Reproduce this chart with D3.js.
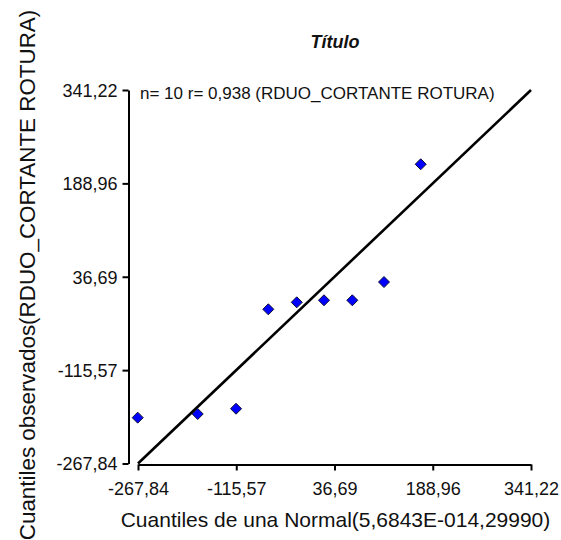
<!DOCTYPE html>
<html><head><meta charset="utf-8">
<script src="https://cdn.jsdelivr.net/npm/d3@7"></script>
<style>body{margin:0;background:#fff}svg{display:block}</style>
</head><body>
<script>
const tickValues = [-267.84, -115.57, 36.69, 188.96, 341.22];
const tickLabels = ["-267,84", "-115,57", "36,69", "188,96", "341,22"];
const normalQuantiles = [-268.3, -175.3, -115.9, -65.9, -21.8, 20.4, 64.3, 113.4, 170.3];
const observedQuantiles = [-193.1, -187.1, -178.5, -16.4, -5.0, -1.7, -1.7, 28.1, 220.1];
const refLine = [-267.84, 341.22];
const title = "Título";
const annotation = "n= 10 r= 0,938 (RDUO_CORTANTE ROTURA)";
const xTitle = "Cuantiles de una Normal(5,6843E-014,29990)";
const yTitle = "Cuantiles observados(RDUO_CORTANTE ROTURA)";

const W = 561, H = 540;
const svg = d3.select("body").append("svg").attr("width", W).attr("height", H)
  .style("font-family", "'Liberation Sans', Arial, sans-serif");

const x = d3.scaleLinear().domain([tickValues[0], tickValues[4]]).range([138, 531]);
const y = d3.scaleLinear().domain([tickValues[0], tickValues[4]]).range([463.5, 90]);

const fmt = v => tickLabels[tickValues.indexOf(v)];

const xAxis = svg.append("g").attr("transform", "translate(0,464.5)")
  .call(d3.axisBottom(x).tickValues(tickValues).tickFormat(fmt).tickSize(6).tickSizeOuter(0));
const yAxis = svg.append("g").attr("transform", "translate(128.5,0)")
  .call(d3.axisLeft(y).tickValues(tickValues).tickFormat(fmt).tickSize(6).tickSizeOuter(0));
[xAxis, yAxis].forEach(g => {
  g.select(".domain").attr("stroke", "#000").attr("stroke-width", 2);
  g.selectAll(".tick line").attr("stroke", "#000").attr("stroke-width", 2);
  g.selectAll(".tick text").attr("fill", "#111").style("font-size", "18px").style("font-family", "'Liberation Sans', Arial, sans-serif");
});
xAxis.selectAll(".tick text").attr("dy", null).attr("y", 30);
yAxis.selectAll(".tick text").attr("x", -11).attr("dy", "0.36em");

// reference line
svg.append("line")
  .attr("x1", x(refLine[0])).attr("y1", y(refLine[0]))
  .attr("x2", x(refLine[1])).attr("y2", y(refLine[1]))
  .attr("stroke", "#000").attr("stroke-width", 2.6);

// points
const diamond = "M0,-5.5L5.5,0L0,5.5L-5.5,0Z";
svg.append("g").selectAll("path").data(normalQuantiles).join("path")
  .attr("d", diamond)
  .attr("transform", (d, i) => `translate(${x(d)},${y(observedQuantiles[i])})`)
  .attr("fill", "#0000ff").attr("stroke", "#101030").attr("stroke-width", 1);

// texts
svg.append("text").attr("x", 335).attr("y", 48).attr("text-anchor", "middle")
  .style("font-size", "18px").style("font-weight", "bold").style("font-style", "italic")
  .attr("fill", "#111").text(title);
svg.append("text").attr("x", 140).attr("y", 99)
  .style("font-size", "17px").attr("fill", "#111").text(annotation);
svg.append("text").attr("x", 335.5).attr("y", 527).attr("text-anchor", "middle")
  .style("font-size", "21px").attr("fill", "#111").text(xTitle);
svg.append("text").attr("transform", "translate(35,275) rotate(-90)").attr("text-anchor", "middle")
  .style("font-size", "22.4px").attr("fill", "#111").text(yTitle);
</script>
</body></html>
